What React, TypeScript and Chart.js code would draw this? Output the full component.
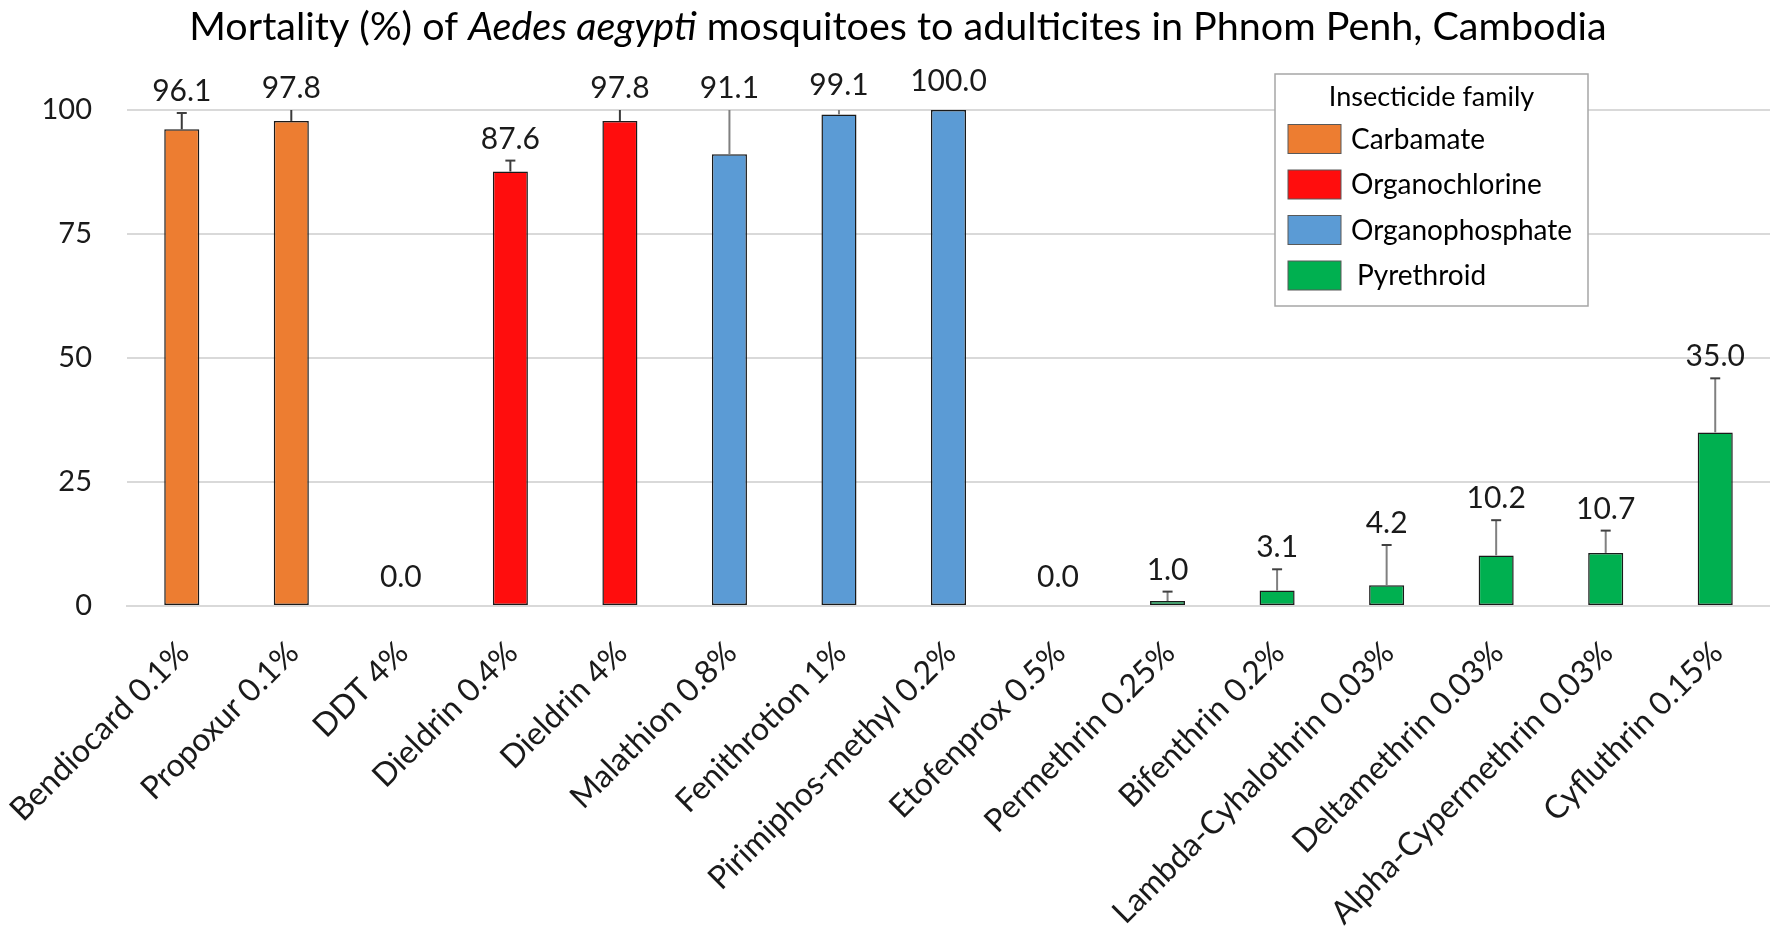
import React, { useEffect, useRef } from "react";
import { Chart, registerables } from "chart.js";

Chart.register(...registerables);

const titleNormalStart = "Mortality (%) of ";
const titleItalic = "Aedes aegypti";
const titleNormalEnd = " mosquitoes to adulticites in Phnom Penh, Cambodia";

const categories = [
  "Bendiocard 0.1%",
  "Propoxur 0.1%",
  "DDT 4%",
  "Dieldrin 0.4%",
  "Dieldrin 4%",
  "Malathion 0.8%",
  "Fenithrotion 1%",
  "Pirimiphos-methyl 0.2%",
  "Etofenprox 0.5%",
  "Permethrin 0.25%",
  "Bifenthrin 0.2%",
  "Lambda-Cyhalothrin 0.03%",
  "Deltamethrin 0.03%",
  "Alpha-Cypermethrin 0.03%",
  "Cyfluthrin 0.15%",
];

const mortality = [96.1, 97.8, 0.0, 87.6, 97.8, 91.1, 99.1, 100.0, 0.0, 1.0, 3.1, 4.2, 10.2, 10.7, 35.0];
const errorPlus = [3.3, 2.6, 0, 2.2, 2.6, 9.5, 1.2, 0, 0, 1.9, 4.3, 8.1, 7.1, 4.5, 10.9];
const familyIndex = [0, 0, 1, 1, 1, 2, 2, 2, 3, 3, 3, 3, 3, 3, 3];

const familyNames = ["Carbamate", "Organochlorine", "Organophosphate", "Pyrethroid"];
const familyColors = ["#ED7D31", "#FF0D0D", "#5B9BD5", "#00B050"];
const errorColors = ["#3a3a3a", "#3a3a3a", "#808080", "#808080"];
const legendTitle = "Insecticide family";

const yTicks = [0, 25, 50, 75, 100];

const FONT = "Lato, 'Open Sans', sans-serif";

const overlayPlugin = {
  id: "overlay",
  afterDatasetsDraw(chart: any) {
    const ctx = chart.ctx as CanvasRenderingContext2D;
    const y = chart.scales.y;
    const meta = chart.getDatasetMeta(0);
    ctx.save();
    meta.data.forEach((bar: any, i: number) => {
      const x = bar.x;
      const v = mortality[i];
      const e = errorPlus[i];
      const topPx = y.getPixelForValue(v);
      let labelBottom = topPx - 19;
      if (e > 0) {
        const tv = Math.min(v + e, 100);
        const ePx = y.getPixelForValue(tv);
        ctx.strokeStyle = errorColors[familyIndex[i]];
        ctx.lineWidth = 2;
        ctx.beginPath();
        ctx.moveTo(x, topPx);
        ctx.lineTo(x, ePx);
        ctx.stroke();
        if (v + e < 100) {
          ctx.strokeStyle = "#404040";
          ctx.beginPath();
          ctx.moveTo(x - 5, ePx);
          ctx.lineTo(x + 5, ePx);
          ctx.stroke();
        }
        labelBottom = Math.min(labelBottom, ePx - 12);
      }
      ctx.fillStyle = "#1a1a1a";
      ctx.font = `30px ${FONT}`;
      ctx.textAlign = "center";
      ctx.textBaseline = "alphabetic";
      ctx.fillText(v.toFixed(1), x, labelBottom);
    });
    ctx.restore();
  },
  afterDraw(chart: any) {
    const ctx = chart.ctx as CanvasRenderingContext2D;
    ctx.save();
    // Title with italic species name
    const normal = `39.5px ${FONT}`;
    const italic = `italic 39.5px ${FONT}`;
    ctx.font = normal;
    const w1 = ctx.measureText(titleNormalStart).width;
    const w3 = ctx.measureText(titleNormalEnd).width;
    ctx.font = italic;
    const w2 = ctx.measureText(titleItalic).width;
    const total = w1 + w2 + w3;
    let tx = 898 - total / 2;
    const ty = 40;
    ctx.fillStyle = "#000";
    ctx.textAlign = "left";
    ctx.textBaseline = "alphabetic";
    ctx.font = normal;
    ctx.fillText(titleNormalStart, tx, ty);
    tx += w1;
    ctx.font = italic;
    ctx.fillText(titleItalic, tx, ty);
    tx += w2;
    ctx.font = normal;
    ctx.fillText(titleNormalEnd, tx, ty);

    // Legend box
    const lx = 1275, ly = 74, lw = 313, lh = 232;
    ctx.fillStyle = "#fff";
    ctx.fillRect(lx, ly, lw, lh);
    ctx.strokeStyle = "#a6a6a6";
    ctx.lineWidth = 1.5;
    ctx.strokeRect(lx, ly, lw, lh);
    ctx.fillStyle = "#000";
    ctx.font = `27px ${FONT}`;
    ctx.textAlign = "center";
    ctx.textBaseline = "middle";
    ctx.fillText(legendTitle, lx + lw / 2, 97);
    ctx.textAlign = "left";
    familyNames.forEach((name, i) => {
      const sy = 124.5 + i * 45.5;
      ctx.fillStyle = familyColors[i];
      ctx.fillRect(1288, sy, 53, 29);
      ctx.strokeStyle = "#595959";
      ctx.lineWidth = 1;
      ctx.strokeRect(1288, sy, 53, 29);
      ctx.fillStyle = "#000";
      ctx.font = `28px ${FONT}`;
      ctx.fillText(name, i === 3 ? 1357 : 1351, sy + 15);
    });
    ctx.restore();
  },
};

export default function App() {
  const ref = useRef<HTMLCanvasElement>(null);
  useEffect(() => {
    const canvas = ref.current;
    if (!canvas) return;
    const chart = new Chart(canvas, {
      type: "bar",
      data: {
        labels: categories,
        datasets: [
          {
            data: mortality,
            backgroundColor: familyIndex.map((f) => familyColors[f]),
            borderColor: "#1a1a1a",
            borderWidth: 1.5,
            borderSkipped: false,
            barPercentage: 0.32,
            categoryPercentage: 1,
          },
        ],
      },
      options: {
        responsive: false,
        animation: false,
        layout: { padding: { top: 110, left: 0, right: 0, bottom: 0 } },
        plugins: {
          legend: { display: false },
          title: { display: false },
          tooltip: { enabled: false },
        },
        scales: {
          x: {
            grid: { display: false, drawTicks: false },
            border: { display: true, color: "#d9d9d9", width: 2 },
            ticks: {
              autoSkip: false,
              maxRotation: 45,
              minRotation: 45,
              padding: 28,
              labelOffset: 2,
              color: "#1a1a1a",
              font: { family: FONT, size: 32 },
            },
            afterFit(scale: any) {
              scale.height = 322;
              scale.paddingLeft = 0;
              scale.paddingRight = 0;
            },
          },
          y: {
            min: 0,
            max: 100,
            afterBuildTicks(scale: any) {
              scale.ticks = yTicks.map((v) => ({ value: v }));
            },
            grid: { color: "#d9d9d9", lineWidth: 2, drawTicks: false },
            border: { display: false },
            ticks: {
              padding: 35,
              color: "#1a1a1a",
              font: { family: FONT, size: 29 },
            },
            afterFit(scale: any) {
              scale.width = 127;
            },
          },
        },
      },
      plugins: [overlayPlugin],
    });
    return () => chart.destroy();
  }, []);
  return (
    <div style={{ position: "fixed", left: 0, top: 0, width: 1770, height: 928, background: "#fff" }}>
      <canvas ref={ref} width={1770} height={928} style={{ display: "block" }} />
    </div>
  );
}
